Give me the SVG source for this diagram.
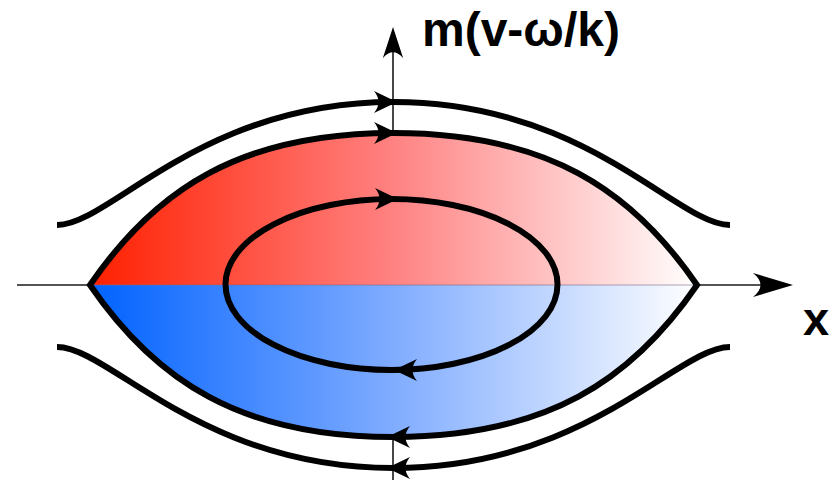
<svg xmlns="http://www.w3.org/2000/svg" xmlns:xlink="http://www.w3.org/1999/xlink" width="836" height="486" viewBox="0 0 836 486">
  <style>
    .curve { fill: none; stroke: #000; stroke-width: 6; stroke-linecap: butt; }
    .axis { fill: none; stroke: #1a1a1a; stroke-width: 1.6; }
    .lbl { font-family: "Liberation Sans", Arial, sans-serif; font-weight: bold; fill: #000; }
  </style>
  <defs>
    <linearGradient id="gRed" gradientUnits="userSpaceOnUse" x1="90" y1="0" x2="697" y2="0">
      <stop offset="0" stop-color="#ff2000"/>
      <stop offset="0.5" stop-color="#ff8282"/>
      <stop offset="1" stop-color="#ffffff"/>
    </linearGradient>
    <linearGradient id="gBlue" gradientUnits="userSpaceOnUse" x1="90" y1="0" x2="697" y2="0">
      <stop offset="0" stop-color="#0062ff"/>
      <stop offset="0.5" stop-color="#80acff"/>
      <stop offset="1" stop-color="#ffffff"/>
    </linearGradient>
    <!-- flow arrowhead, tip at origin, pointing +x -->
    <path id="head" d="M0,0 L-23,-11 C-17,-4 -17,4 -23,11 Z" fill="#000"/>
    <path id="axhead" d="M0,0 L-40,-12 C-30,-4 -30,4 -40,12 Z" fill="#000"/>
  </defs>

  <g id="axes">
    <line class="axis" x1="17" y1="285" x2="770" y2="285"/>
    <use xlink:href="#axhead" transform="translate(793,285)"/>
    <line class="axis" x1="393" y1="480" x2="393" y2="45"/>
    <use xlink:href="#axhead" transform="translate(393,27) rotate(-90) scale(0.78,0.85)"/>
  </g>

  <g id="trapped-region">
    <path d="M90,285 C155,190 240,133 393.5,133 C547,133 632,190 697,285 Z" fill="url(#gRed)"/>
    <path d="M90,285 C155,380 240,437 393.5,437 C547,437 632,380 697,285 Z" fill="url(#gBlue)"/>
    <line x1="90" y1="285" x2="697" y2="285" stroke="#7a6a8a" stroke-width="1" opacity="0.6"/>
  </g>

  <g id="connectors">
    <!-- separatrix -->
    <path class="curve" d="M90,285 C155,190 240,133 393.5,133 C547,133 632,190 697,285 C632,380 547,437 393.5,437 C240,437 155,380 90,285 Z" stroke-linejoin="miter"/>
    <!-- outer passing orbits -->
    <path class="curve" d="M57,225 C110,225 200,102 393.5,102 C587,102 677,225 730,225"/>
    <path class="curve" d="M57,347 C110,347 200,468 393.5,468 C587,468 677,347 730,347"/>
    <!-- inner trapped orbit -->
    <ellipse class="curve" cx="391.5" cy="284.5" rx="166" ry="85.5"/>
    <!-- arrowheads -->
    <use xlink:href="#head" transform="translate(397,102)"/>
    <use xlink:href="#head" transform="translate(397,133)"/>
    <use xlink:href="#head" transform="translate(398,199)"/>
    <use xlink:href="#head" transform="translate(394,370) rotate(180)"/>
    <use xlink:href="#head" transform="translate(387,437) rotate(180)"/>
    <use xlink:href="#head" transform="translate(387,468) rotate(180)"/>
  </g>

  <g id="labels">
    <text class="lbl" x="422" y="46" font-size="48">m(v-ω/k)</text>
    <text class="lbl" x="803" y="335" font-size="47">x</text>
  </g>
</svg>
